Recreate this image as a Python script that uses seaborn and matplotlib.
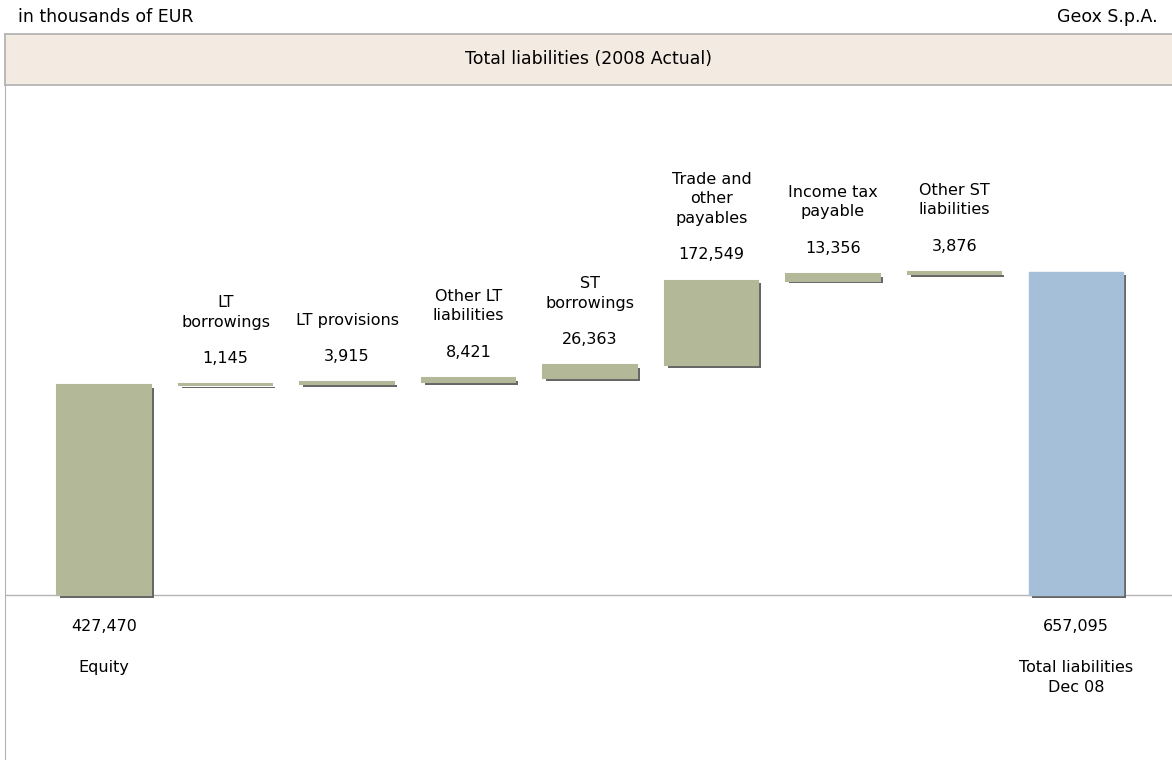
import numpy as np
import pandas as pd
import matplotlib
matplotlib.use("Agg")
import matplotlib.pyplot as plt
import matplotlib.patheffects as pe
import seaborn as sns

# waterfall data (in thousands of EUR)
categories = ["Equity", "LT\nborrowings", "LT provisions", "Other LT\nliabilities",
              "ST\nborrowings", "Trade and\nother\npayables", "Income tax\npayable",
              "Other ST\nliabilities", "Total liabilities\nDec 08"]
values = [427470, 1145, 3915, 8421, 26363, 172549, 13356, 3876, 657095]

GREEN = "#B3B898"
BLUE = "#A4BFD7"
SHADOW = "#666666"
BORDER = "#B4B4B4"
HEADER = "#F3EBE1"

sns.set_style("white")
plt.rcParams["font.family"] = ["DejaVu Sans"]
plt.rcParams["text.color"] = "black"
FS = 11.5
FS_HEAD = 12.5

df = pd.DataFrame({"category": categories, "value": values})
# floating bars start where the previous ones end; first and last sit on zero
bottoms = np.concatenate([[0], np.cumsum(values[:-2]), [0]])
df["bottom"] = bottoms

fig = plt.figure(figsize=(11.72, 7.6), dpi=100)
ax = fig.add_axes([5 / 1172, 0, 1167 / 1172, 675 / 760])
hax = fig.add_axes([5 / 1172, 675 / 760, 1167 / 1172, 51 / 760])

shadow = [pe.SimplePatchShadow(offset=(2, -2), shadow_rgbFace=SHADOW, alpha=1), pe.Normal()]

parts = df.iloc[:-1]
sns.barplot(data=parts, x="category", y="value", order=categories, color=GREEN,
            width=0.77, bottom=parts["bottom"].to_numpy(), edgecolor=GREEN,
            linewidth=1.5, saturation=1, path_effects=shadow, ax=ax)
total = df.iloc[-1:]
sns.barplot(data=total, x="category", y="value", order=categories, color=BLUE,
            width=0.77, bottom=total["bottom"].to_numpy(), edgecolor=BLUE,
            linewidth=1, saturation=1, path_effects=shadow, ax=ax)

ax.axhline(0, color=BORDER, lw=1, zorder=0)
ax.set_xlim(-0.815, 8.79)
ax.set_ylim(-335775, 1037850)
ax.set_xticks([])
ax.set_yticks([])
ax.set_xlabel("")
ax.set_ylabel("")
for s in ["top", "right", "bottom"]:
    ax.spines[s].set_visible(False)
ax.spines["left"].set_color(BORDER)

for i, (name, v, b) in enumerate(zip(categories, values, bottoms)):
    if i == 0 or i == len(values) - 1:
        ax.annotate(f"{v:,}", xy=(i, 0), xytext=(0, -23), textcoords="offset points",
                    ha="center", va="center", fontsize=FS)
        ax.annotate(name, xy=(i, 0), xytext=(0, -47), textcoords="offset points",
                    ha="center", va="top", fontsize=FS, linespacing=1.38)
    else:
        top = b + v
        ax.annotate(f"{v:,}", xy=(i, top), xytext=(0, 18.5), textcoords="offset points",
                    ha="center", va="center", fontsize=FS)
        ax.annotate(name, xy=(i, top), xytext=(0, 39.5), textcoords="offset points",
                    ha="center", va="bottom", fontsize=FS, linespacing=1.38)

# header band
hax.set_facecolor(HEADER)
hax.set_xticks([])
hax.set_yticks([])
hax.spines["right"].set_visible(False)
for s in ["left", "top", "bottom"]:
    hax.spines[s].set_color(BORDER)
    hax.spines[s].set_linewidth(1.3)
hax.text(0.5, 0.5, "Total liabilities (2008 Actual)", ha="center", va="center",
         fontsize=FS_HEAD, transform=hax.transAxes)

fig.text(18 / 1172, 1 - 17 / 760, "in thousands of EUR", ha="left", va="center", fontsize=FS_HEAD)
fig.text(1158 / 1172, 1 - 17 / 760, "Geox S.p.A.", ha="right", va="center", fontsize=FS_HEAD)

fig.savefig("out.png", dpi=100)
